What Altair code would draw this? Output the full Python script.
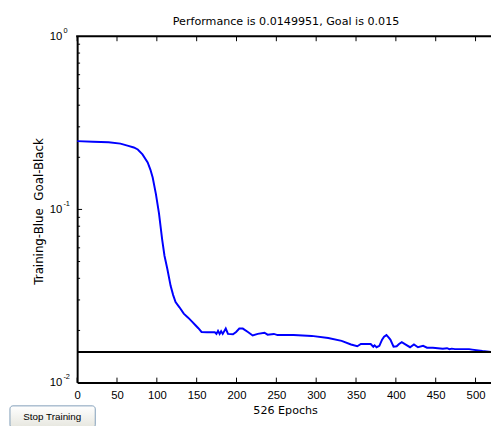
import altair as alt
import pandas as pd

# ---- data ----
epochs = [0, 19.8, 39.5, 54.3, 64.2, 71.1, 76.1, 82, 88.5, 91.9, 94.8, 98.8,
          102.7, 106.7, 109.6, 113.2, 117.3, 120.5, 123.5, 128.4, 133.8, 139.3,
          144.2, 148.2, 152.1, 156.1, 163, 172.8, 174.8, 176.8, 178.8, 180.7,
          182.7, 186.5, 189.3, 195.6, 199.5, 203.5, 207.9, 214.3, 220.3, 226.7,
          235.1, 239, 246.9, 251.5, 271.6, 294.3, 315.1, 331.9, 343.7, 351.6,
          356.1, 368.4, 371.7, 373.3, 375.8, 379.3, 382.7, 385.2, 388.2, 391.1,
          393.1, 397.1, 401, 404, 407.4, 412.9, 417.8, 422.7, 427.7, 434.2,
          439.1, 446.4, 458.9, 464.2, 467.2, 470.1, 474.1, 491.9, 495.8, 508.7,
          519.5, 526]
perf = [0.248, 0.246, 0.244, 0.240, 0.233, 0.228, 0.222, 0.208, 0.187, 0.170,
        0.153, 0.123, 0.095, 0.067, 0.054, 0.0453, 0.0362, 0.032, 0.0292,
        0.0272, 0.0250, 0.0237, 0.0225, 0.0215, 0.0206, 0.0196, 0.0195, 0.0195,
        0.0191, 0.0199, 0.0191, 0.0198, 0.0191, 0.0205, 0.0191, 0.0190, 0.0196,
        0.0205, 0.0205, 0.0196, 0.0187, 0.0191, 0.0194, 0.0189, 0.0191, 0.0188,
        0.0188, 0.0186, 0.0181, 0.0174, 0.0166, 0.0162, 0.0167, 0.0167, 0.0161,
        0.0164, 0.0160, 0.0163, 0.0177, 0.0184, 0.0188, 0.0182, 0.0177, 0.0161,
        0.0162, 0.0167, 0.0171, 0.0165, 0.0160, 0.0166, 0.0160, 0.0163, 0.0159,
        0.0159, 0.0157, 0.0158, 0.0156, 0.0157, 0.0156, 0.0156, 0.0155, 0.0152,
        0.0150, 0.0149951]
goal = [0.015]
x_ticks = [0, 50, 100, 150, 200, 250, 300, 350, 400, 450, 500]
y_major = [0.01, 0.1, 1.0]
y_exponents = ["-2", "-1", "0"]
y_major_inner = [0.1]
y_minor = [0.02, 0.03, 0.04, 0.05, 0.06, 0.07, 0.08, 0.09,
           0.2, 0.3, 0.4, 0.5, 0.6, 0.7, 0.8, 0.9]
title_text = "Performance is 0.0149951, Goal is 0.015"
x_title = "526 Epochs"
y_title = "Training-Blue\u00a0\u00a0Goal-Black"
button_label = ["Stop Training"]

W, H = 420.7, 352
FONT = "Liberation Sans"
TFONT = "DejaVu Sans"

xscale = alt.Scale(domain=[0, 519.4], nice=False, zero=False)
yscale = alt.Scale(type="log", domain=[0.01, 1], nice=False)

perf_df = pd.DataFrame({"epoch": epochs, "perf": perf})

line = alt.Chart(perf_df).mark_line(color="#0000ff", strokeWidth=2, clip=True).encode(
    x=alt.X("epoch:Q", scale=xscale,
            axis=alt.Axis(values=x_ticks, title=x_title, ticks=False, tickSize=0,
                          labelPadding=7, labelFontSize=11.5, labelFont=FONT,
                          labelColor="black", titleFont=TFONT, titleFontSize=11.3,
                          titleFontWeight="normal", titleColor="black",
                          titleBaseline="alphabetic", titleY=31.4, titleX=211.4,
                          domainColor="black", domainWidth=2, grid=False,
                          labelFlush=False, labelOverlap=False)),
    y=alt.Y("perf:Q", scale=yscale,
            axis=alt.Axis(values=y_major, labelExpr="'10'", title=y_title,
                          ticks=False, tickSize=0, labelPadding=15.5,
                          labelFontSize=11.5, labelFont=FONT, labelColor="black",
                          titleFont=TFONT, titleFontSize=12, titleFontWeight="normal",
                          titleColor="black", titleBaseline="alphabetic",
                          titleX=-35.6, titleY=177.5, domainColor="black",
                          domainWidth=2, grid=False, labelFlush=False,
                          labelOverlap=False)),
)

goal_rule = alt.Chart(pd.DataFrame({"goal": goal})).mark_rule(
    color="black", strokeWidth=2).encode(y=alt.Y("goal:Q", scale=yscale))

xt = pd.DataFrame({"t": x_ticks})
bottom_ticks = alt.Chart(xt).mark_rule(color="black", strokeWidth=1).encode(
    x=alt.X("t:Q", scale=xscale), y=alt.value(H), y2=alt.value(H - 5))
top_ticks = alt.Chart(xt).mark_rule(color="black", strokeWidth=1).encode(
    x=alt.X("t:Q", scale=xscale), y=alt.value(0), y2=alt.value(5))

minor_ticks = alt.Chart(pd.DataFrame({"v": y_minor})).mark_rule(
    color="black", strokeWidth=1).encode(
    y=alt.Y("v:Q", scale=yscale), x=alt.value(0), x2=alt.value(3))
major_ticks = alt.Chart(pd.DataFrame({"v": y_major_inner})).mark_rule(
    color="black", strokeWidth=1).encode(
    y=alt.Y("v:Q", scale=yscale), x=alt.value(0), x2=alt.value(5))

top_border = alt.Chart(pd.DataFrame({"v": [1.0]})).mark_rule(
    color="black", strokeWidth=2).encode(
    y=alt.Y("v:Q", scale=yscale), x=alt.value(-1), x2=alt.value(W + 5))

exp_df = pd.DataFrame({"v": y_major, "e": y_exponents})
exponents = alt.Chart(exp_df).mark_text(
    align="left", baseline="alphabetic", fontSize=7.5, font=FONT,
    color="black", dy=-3.5).encode(
    y=alt.Y("v:Q", scale=yscale), x=alt.value(-14), text="e:N")

btn_df = pd.DataFrame({"label": button_label})
button = alt.Chart(btn_df).mark_rect(
    fill=alt.Gradient(gradient="linear", x1=0, y1=0, x2=0, y2=1,
                      stops=[alt.GradientStop(color="#ffffff", offset=0),
                             alt.GradientStop(color="#e6e6de", offset=1)]),
    stroke="#7f9db9", strokeWidth=1, cornerRadius=3).encode(
    x=alt.value(-68.3), x2=alt.value(18.4), y=alt.value(375.7), y2=alt.value(398))
button_text = alt.Chart(btn_df).mark_text(
    align="center", baseline="alphabetic", fontSize=10, font=FONT,
    color="black").encode(
    x=alt.value(-25.3), y=alt.value(389.7), text="label:N")

chart = alt.layer(
    line, goal_rule, bottom_ticks, top_ticks, minor_ticks, major_ticks,
    top_border, exponents, button, button_text
).properties(
    width=W, height=H,
    title=alt.TitleParams(text=title_text, font=TFONT, fontSize=11.3,
                          fontWeight="normal", color="black", anchor="middle",
                          frame="group", baseline="alphabetic", offset=-9, dx=2),
    autosize=alt.AutoSizeParams(type="none"),
    padding={"left": 70.3, "top": 25.3, "right": 0, "bottom": 40.7},
    background="white",
).configure_view(stroke="transparent")

chart.save("out.html", embed_options={"renderer": "svg", "actions": False})
